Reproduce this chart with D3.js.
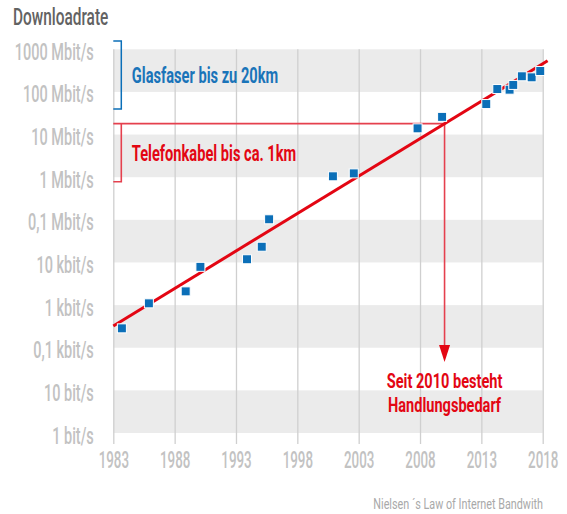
<!DOCTYPE html>
<html>
<head>
<meta charset="utf-8">
<script src="https://cdn.jsdelivr.net/npm/d3@7"></script>
<style>
  body { margin: 0; background: #fff; }
  text { font-family: Roboto, "DejaVu Sans", sans-serif; }
</style>
</head>
<body>
<div class="chart"></div>
<script>
const FRAME_WIDTH = 567;
const FRAME_HEIGHT = 514;
const MARGINS = {left: 113.3, right: 24.3, top: 49.3, bottom: 81};
const PLOT_WIDTH = FRAME_WIDTH - MARGINS.left - MARGINS.right;
const PLOT_HEIGHT = FRAME_HEIGHT - MARGINS.top - MARGINS.bottom;

// data
const YEARS = [1983.7, 1985.9, 1988.9, 1990.1, 1993.9, 1995.1, 1995.7, 2000.9, 2002.6,
               2007.8, 2009.8, 2013.4, 2014.3, 2015.3, 2015.6, 2016.3, 2017.1, 2017.8];
const RATES = [285, 1100, 2100, 7900, 11900, 23400, 103000, 1.05e6, 1.23e6,
               1.4e7, 2.6e7, 5.2e7, 1.17e8, 1.13e8, 1.46e8, 2.33e8, 2.2e8, 3.1e8];

// trend line (Nielsen's law), start and end
const TREND_YEARS = [1983, 2018.4];
const TREND_RATES = [324, 5.4e8];

const X_TICKS = [1983, 1988, 1993, 1998, 2003, 2008, 2013, 2018];
const Y_TICKS = [1, 10, 100, 1e3, 1e4, 1e5, 1e6, 1e7, 1e8, 1e9];
const Y_LABELS = ["1 bit/s", "10 bit/s", "0,1 kbit/s", "1 kbit/s", "10 kbit/s",
                  "0,1 Mbit/s", "1 Mbit/s", "10 Mbit/s", "100 Mbit/s", "1000 Mbit/s"];

// annotations
const GLAS_RANGE = [1.57e9, 4e7];
const TELEFON_BOTTOM = 7.8e5;
const MARK_YEAR = 2010;
const ARROW_END = 46;

const BLUE = "#0b6fb8";
const RED = "#e30613";
const LIGHT_RED = "#e5404e";
const GRID = "#cfcfcf";
const LABEL = "#c2c2c2";

const SVG = d3.select(".chart")
              .append("svg")
              .attr("width", FRAME_WIDTH)
              .attr("height", FRAME_HEIGHT);

const X_SCALE = d3.scaleLinear()
                  .domain([1983, 2018])
                  .range([MARGINS.left, MARGINS.left + PLOT_WIDTH]);

const Y_SCALE = d3.scaleLog()
                  .domain([1, 1e9])
                  .range([MARGINS.top + PLOT_HEIGHT, MARGINS.top]);

// trend value at a year, interpolated in log space
const TREND_LOG = d3.scaleLinear()
                    .domain(TREND_YEARS)
                    .range(TREND_RATES.map(Math.log10));
const trendAt = (yr) => Math.pow(10, TREND_LOG(yr));

// grey bands every other decade
const BANDS = [];
for (let i = Y_TICKS.length - 1; i > 0; i -= 2) {
    BANDS.push([Y_TICKS[i - 1], Y_TICKS[i]]);
}
SVG.append("g")
   .selectAll("rect")
   .data(BANDS)
   .enter()
   .append("rect")
      .attr("x", MARGINS.left)
      .attr("width", PLOT_WIDTH)
      .attr("y", (d) => Y_SCALE(d[1]))
      .attr("height", (d) => Y_SCALE(d[0]) - Y_SCALE(d[1]))
      .attr("fill", "#ebebeb");

// x axis with full-height grid lines
const X_AXIS = SVG.append("g")
    .attr("transform", "translate(0," + MARGINS.top + ")")
    .call(d3.axisBottom(X_SCALE)
            .tickValues(X_TICKS)
            .tickFormat(d3.format("d"))
            .tickSize(PLOT_HEIGHT + 11));
X_AXIS.select(".domain").remove();
X_AXIS.selectAll(".tick line")
      .attr("stroke", GRID)
      .attr("stroke-width", 1.3);
X_AXIS.selectAll(".tick text")
      .attr("y", 0)
      .attr("dy", 0)
      .attr("transform", "translate(0," + (PLOT_HEIGHT + 34.5) + ") scale(0.58,1)")
      .attr("fill", LABEL)
      .attr("font-size", "23px")
      .attr("font-weight", 500);

// y axis labels
const Y_AXIS = SVG.append("g")
    .attr("transform", "translate(" + MARGINS.left + ",0)")
    .call(d3.axisLeft(Y_SCALE)
            .tickValues(Y_TICKS)
            .tickFormat((d, i) => Y_LABELS[i])
            .tickSize(0));
Y_AXIS.select(".domain").remove();
Y_AXIS.selectAll(".tick text")
      .attr("x", 0)
      .attr("dy", 0)
      .attr("y", 0)
      .attr("transform", "translate(-19.5,10) scale(0.63,1)")
      .attr("text-anchor", "end")
      .attr("fill", LABEL)
      .attr("font-size", "23px")
      .attr("font-weight", 500);

// title
SVG.append("text")
   .attr("transform", "translate(13,25) scale(0.67,1)")
   .attr("font-size", "23px")
   .attr("font-weight", 500)
   .attr("fill", "#626262")
   .text("Downloadrate");

// blue bracket: Glasfaser
const BR_X = MARGINS.left + 8;
const gy0 = Y_SCALE(GLAS_RANGE[0]), gy1 = Y_SCALE(GLAS_RANGE[1]);
SVG.append("path")
   .attr("d", `M${MARGINS.left},${gy0}H${BR_X}V${gy1}H${MARGINS.left}`)
   .attr("fill", "none")
   .attr("stroke", BLUE)
   .attr("stroke-width", 1.5);
SVG.append("text")
   .attr("transform", `translate(${BR_X + 10.5},${(gy0 + gy1) / 2 + 8.5}) scale(0.65,1)`)
   .attr("font-size", "22.5px")
   .attr("font-weight", 700)
   .attr("fill", "#1a74b9")
   .text("Glasfaser bis zu 20km");

// red bracket + line to 2010 marker
const MARK_RATE = trendAt(MARK_YEAR);
const ry0 = Y_SCALE(MARK_RATE), ry1 = Y_SCALE(TELEFON_BOTTOM);
const MX = X_SCALE(MARK_YEAR);
SVG.append("path")
   .attr("d", `M${MX},${ry0}H${MARGINS.left}`)
   .attr("fill", "none")
   .attr("stroke", LIGHT_RED)
   .attr("stroke-width", 1.6);
SVG.append("path")
   .attr("d", `M${BR_X},${ry0}V${ry1}H${MARGINS.left}`)
   .attr("fill", "none")
   .attr("stroke", LIGHT_RED)
   .attr("stroke-width", 1.6);
SVG.append("text")
   .attr("transform", `translate(${BR_X + 10.5},${(ry0 + ry1) / 2 + 8}) scale(0.65,1)`)
   .attr("font-size", "22.5px")
   .attr("font-weight", 700)
   .attr("fill", RED)
   .text("Telefonkabel bis ca. 1km");

// arrow down from marker
const ay = Y_SCALE(ARROW_END);
SVG.append("path")
   .attr("d", `M${MX},${ry0}V${ay - 14}`)
   .attr("stroke", LIGHT_RED)
   .attr("stroke-width", 1.6);
SVG.append("path")
   .attr("d", `M${MX - 5.5},${ay - 17}L${MX + 5.5},${ay - 17}L${MX},${ay}Z`)
   .attr("fill", RED);

const NOTE = SVG.append("g")
   .attr("fill", RED)
   .attr("font-size", "20.8px")
   .attr("font-weight", 700)
   .attr("text-anchor", "middle");
NOTE.append("text")
    .attr("transform", `translate(${MX},${ay + 25.5}) scale(0.70,1)`)
    .text("Seit 2010 besteht");
NOTE.append("text")
    .attr("transform", `translate(${MX},${ay + 50}) scale(0.70,1)`)
    .text("Handlungsbedarf");

// trend line
SVG.append("path")
   .datum(TREND_YEARS.map((y, i) => [y, TREND_RATES[i]]))
   .attr("d", d3.line()
                .x((d) => X_SCALE(d[0]))
                .y((d) => Y_SCALE(d[1])))
   .attr("fill", "none")
   .attr("stroke", RED)
   .attr("stroke-width", 3);

// data points
const SQ = 9;
SVG.append("g")
   .selectAll("rect")
   .data(YEARS.map((y, i) => ({year: y, rate: RATES[i]})))
   .enter()
   .append("rect")
      .attr("x", (d) => X_SCALE(d.year) - SQ / 2)
      .attr("y", (d) => Y_SCALE(d.rate) - SQ / 2)
      .attr("width", SQ)
      .attr("height", SQ)
      .attr("fill", BLUE)
      .attr("stroke", "#fff")
      .attr("stroke-width", 1);

// source
SVG.append("text")
   .attr("transform", "translate(543,509) scale(0.72,1)")
   .attr("text-anchor", "end")
   .attr("font-size", "15px")
   .attr("fill", "#a9a9a9")
   .text("Nielsen\u00a0\u00b4s Law of Internet Bandwith");
</script>
</body>
</html>
